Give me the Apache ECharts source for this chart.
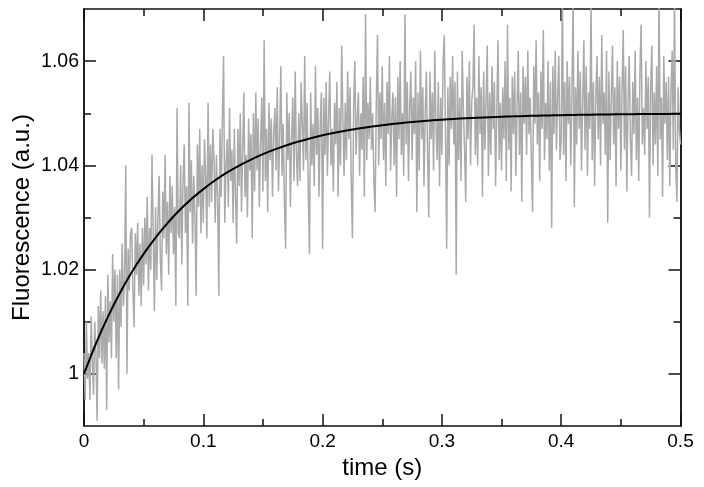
<!DOCTYPE html>
<html><head><meta charset="utf-8">
<script src="https://cdn.jsdelivr.net/npm/echarts@6/dist/echarts.min.js"></script>
<style>html,body{margin:0;padding:0;background:#fff}#c{width:704px;height:487px}</style>
</head><body><div id="c"></div>
<script>
// sampling step of the recorded trace (s)
const sampleStep = 0.001;
// recorded fluorescence trace (a.u.), one value per sample
const fluorescence = [
1.004,0.995,1.010,0.999,1.004,0.995,1.011,1.003,0.996,1.010,
1.004,0.991,1.013,1.003,1.016,1.002,1.012,1.001,1.015,0.993,
1.019,1.006,1.014,1.003,1.023,1.010,1.020,1.003,1.019,0.997,
1.020,1.009,1.025,1.013,1.018,1.040,1.000,1.024,1.016,1.027,
1.028,1.016,1.009,1.027,1.019,1.029,1.015,1.025,1.013,1.028,
1.017,1.030,1.021,1.034,1.016,1.028,1.020,1.042,1.027,1.012,
1.032,1.018,1.030,1.038,1.022,1.016,1.035,1.026,1.042,1.023,
1.033,1.019,1.038,1.027,1.036,1.023,1.032,1.013,1.051,1.027,
1.026,1.040,1.021,1.037,1.044,1.027,1.036,1.013,1.052,1.031,
1.041,1.025,1.038,1.030,1.015,1.044,1.032,1.047,1.027,1.040,
1.029,1.045,1.038,1.026,1.052,1.032,1.044,1.033,1.047,1.041,
1.029,1.042,1.034,1.015,1.047,1.034,1.049,1.061,1.029,1.040,
1.045,1.032,1.051,1.037,1.043,1.029,1.047,1.034,1.025,1.047,
1.036,1.050,1.031,1.043,1.054,1.034,1.042,1.030,1.049,1.039,
1.046,1.026,1.050,1.035,1.054,1.039,1.049,1.032,1.044,1.053,
1.035,1.064,1.037,1.047,1.031,1.052,1.041,1.049,1.034,1.046,
1.051,1.039,1.055,1.035,1.045,1.059,1.038,1.048,1.033,1.024,
1.054,1.041,1.050,1.032,1.045,1.053,1.037,1.058,1.042,1.036,
1.050,1.037,1.056,1.048,1.039,1.061,1.041,1.052,1.035,1.023,
1.054,1.040,1.048,1.036,1.059,1.042,1.051,1.034,1.048,1.054,
1.024,1.053,1.042,1.056,1.038,1.049,1.058,1.040,1.047,1.035,
1.052,1.044,1.056,1.034,1.051,1.040,1.063,1.049,1.038,1.052,
1.041,1.058,1.045,1.055,1.037,1.026,1.051,1.060,1.042,1.049,
1.054,1.038,1.050,1.043,1.057,1.034,1.069,1.041,1.052,1.045,
1.057,1.043,1.050,1.037,1.031,1.052,1.065,1.040,1.054,1.045,
1.059,1.041,1.052,1.036,1.056,1.046,1.061,1.039,1.049,1.054,
1.040,1.053,1.034,1.057,1.045,1.060,1.042,1.050,1.038,1.069,
1.044,1.056,1.037,1.051,1.058,1.041,1.053,1.046,1.060,1.031,
1.054,1.039,1.062,1.045,1.055,1.036,1.050,1.058,1.042,1.030,
1.058,1.045,1.054,1.039,1.062,1.048,1.041,1.056,1.036,1.053,
1.042,1.060,1.065,1.046,1.024,1.055,1.040,1.057,1.047,1.061,
1.044,1.056,1.019,1.058,1.041,1.053,1.037,1.062,1.051,1.043,
1.033,1.057,1.045,1.060,1.040,1.052,1.055,1.067,1.042,1.053,
1.040,1.061,1.046,1.055,1.034,1.058,1.043,1.052,1.063,1.038,
1.054,1.042,1.059,1.047,1.056,1.036,1.050,1.064,1.041,1.052,
1.039,1.055,1.045,1.060,1.037,1.067,1.043,1.053,1.035,1.057,
1.046,1.058,1.038,1.051,1.062,1.042,1.054,1.033,1.059,1.048,
1.057,1.042,1.062,1.046,1.053,1.041,1.031,1.059,1.048,1.064,
1.044,1.054,1.037,1.058,1.047,1.066,1.041,1.052,1.045,1.060,
1.039,1.056,1.028,1.059,1.046,1.062,1.043,1.053,1.061,1.041,
1.045,1.073,1.042,1.056,1.037,1.060,1.048,1.057,1.040,1.054,
1.072,1.032,1.055,1.044,1.062,1.047,1.058,1.039,1.052,1.064,
1.043,1.059,1.038,1.054,1.047,1.072,1.041,1.056,1.036,1.053,
1.061,1.045,1.057,1.040,1.065,1.048,1.054,1.042,1.062,1.029,
1.058,1.041,1.053,1.063,1.044,1.055,1.036,1.060,1.047,1.057,
1.039,1.054,1.066,1.043,1.059,1.035,1.052,1.061,1.045,1.038,
1.056,1.046,1.062,1.041,1.053,1.037,1.058,1.067,1.044,1.051,
1.042,1.060,1.047,1.057,1.030,1.055,1.063,1.040,1.054,1.044,
1.059,1.038,1.073,1.045,1.053,1.034,1.061,1.048,1.056,1.041,
1.057,1.036,1.054,1.062,1.043,1.072,1.040,1.033,1.055,1.047,1.044
];
// fitted curve
const fitTimes = [0,0.01,0.02,0.03,0.04,0.05,0.06,0.07,0.08,0.09,0.10,0.11,0.12,0.13,0.14,0.15,0.16,0.17,0.18,0.19,0.20,0.21,0.22,0.23,0.24,0.25,0.26,0.27,0.28,0.29,0.30,0.31,0.32,0.33,0.34,0.35,0.36,0.37,0.38,0.39,0.40,0.41,0.42,0.43,0.44,0.45,0.46,0.47,0.48,0.49,0.50];
const fitValues = [1.0000,1.00581,1.01094,1.01548,1.01949,1.02303,1.02616,1.02893,1.03138,1.03354,1.03545,1.03714,1.03864,1.03996,1.04112,1.04216,1.04307,1.04387,1.04458,1.04521,1.04577,1.04626,1.04669,1.04708,1.04742,1.04772,1.04798,1.04821,1.04842,1.04861,1.04877,1.04891,1.04904,1.04915,1.04925,1.04934,1.04941,1.04948,1.04954,1.04959,1.04964,1.04968,1.04972,1.04975,1.04978,1.04981,1.04983,1.04985,1.04987,1.04988,1.04990];
// axis ticks
const xTicks = [0,0.1,0.2,0.3,0.4,0.5];
const yTicks = [1,1.02,1.04,1.06];
const yMinorTicks = [1.01,1.03,1.05];

const FONT = "'Liberation Sans', Arial, sans-serif";
const lineStyle = {color:'#111', width:1.5};
const traceData = fluorescence.map((v,i)=>[+(i*sampleStep).toFixed(4), v]);
const fitData = fitTimes.map((t,i)=>[t, fitValues[i]]);

function xAx(pos, labels){
  return {type:'value', position:pos, min:xTicks[0], max:xTicks[xTicks.length-1], interval:0.1,
    axisLine:{show:true, onZero:false, lineStyle}, splitLine:{show:false},
    axisTick:{show:true, inside:true, length:12, lineStyle},
    minorTick:{show:true, splitNumber:2, length:7, lineStyle},
    axisLabel:{show:labels, color:'#000', fontFamily:FONT, fontSize:19, margin:6},
    name: labels ? 'time (s)' : '', nameLocation:'middle', nameGap:24,
    nameTextStyle:{color:'#000', fontFamily:FONT, fontSize:24}};
}
function yAx(pos, ticks, len, labels){
  return {type:'value', position:pos, min:0.99, max:1.07,
    axisLine:{show:true, onZero:false, lineStyle}, splitLine:{show:false},
    axisTick:{show:true, inside:true, length:len, lineStyle, customValues:ticks},
    axisLabel:{show:labels, customValues:ticks, color:'#000', fontFamily:FONT, fontSize:19.5, margin:5},
    name: labels ? 'Fluorescence (a.u.)' : '', nameLocation:'middle', nameGap:50, nameMoveOverlap:false,
    nameTextStyle:{color:'#000', fontFamily:FONT, fontSize:24}};
}

const chart = echarts.init(document.getElementById('c'), null, {renderer:'canvas'});
chart.setOption({
  animation:false,
  backgroundColor:'#fff',
  grid:{left:84, right:23.5, top:9, bottom:61, containLabel:false, outerBoundsMode:'none'},
  xAxis:[xAx('bottom', true), xAx('top', false)],
  yAxis:[yAx('left', yTicks, 12, true), yAx('left', yMinorTicks, 7, false),
         yAx('right', yTicks, 12, false), yAx('right', yMinorTicks, 7, false)],
  series:[
    {type:'line', data:traceData, xAxisIndex:0, yAxisIndex:0, showSymbol:false, symbol:'none',
     lineStyle:{color:'#aaaaaa', width:1.5}, clip:true, z:2},
    {type:'line', data:fitData, xAxisIndex:0, yAxisIndex:0, showSymbol:false, symbol:'none', smooth:0.3,
     lineStyle:{color:'#000', width:2}, clip:true, z:3}
  ]
});
</script></body></html>
